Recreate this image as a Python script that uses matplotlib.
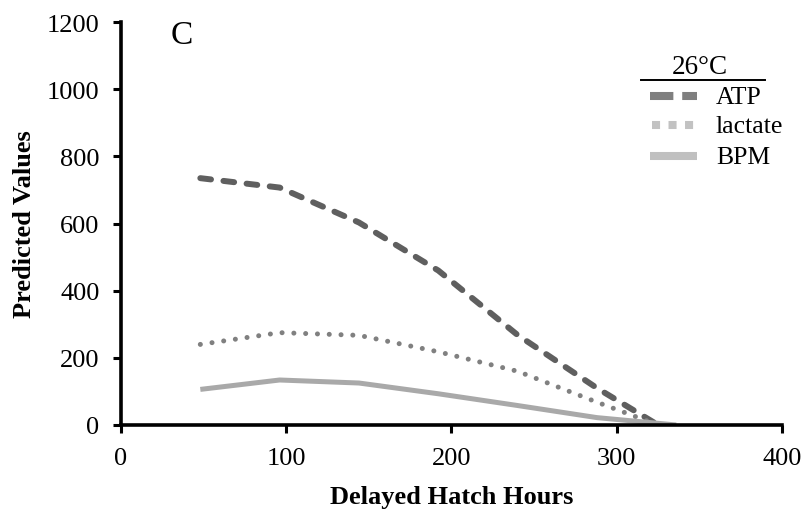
import matplotlib.pyplot as plt

plt.rcParams['font.family'] = ['Liberation Serif', 'DejaVu Serif']

# hours after delayed hatch
atp_x = [48, 96, 144, 192, 240, 288, 325]
atp_y = [735, 707, 603, 460, 268, 110, 0]

lac_x = [48, 96, 144, 192, 240, 288, 325]
lac_y = [240, 275, 267, 218, 160, 68, 0]

bpm_x = [48, 96, 144, 192, 240, 288, 336]
bpm_y = [106, 134, 125, 93, 58, 22, 0]

labels = ['ATP', 'lactate', 'BPM']
legend_title = '26°C'

fig = plt.figure(figsize=(8.03, 5.10), dpi=100)
ax = fig.add_axes([121/803, 1 - 426/510, (782-121)/803, (426-23)/510])

ax.plot(atp_x, atp_y, color='#5f5f5f', lw=4.3, linestyle=(0, (1.8, 2.1)), dash_capstyle='round')
ax.plot(lac_x, lac_y, color='#808080', lw=3.6, linestyle=(0, (0.01, 2.35)), dash_capstyle='round')
ax.plot(bpm_x, bpm_y, color='#a9a9a9', lw=3.6, solid_capstyle='butt')

ax.set_xlim(0, 400)
ax.set_ylim(0, 1200)
ax.set_xticks([0, 100, 200, 300, 400])
ax.set_yticks(range(0, 1201, 200))
for s in ['top', 'right']:
    ax.spines[s].set_visible(False)
for s in ['left', 'bottom']:
    ax.spines[s].set_linewidth(2.6)
ax.tick_params(direction='out', length=5.5, width=2.2, labelsize=19, pad=10)

ax.set_xlabel('Delayed Hatch Hours', fontsize=19, fontweight='bold', labelpad=12)
ax.set_ylabel('Predicted Values', fontsize=19, fontweight='bold', labelpad=8)

# panel letter
fig.text(182/803, 1 - 36/510, 'C', fontsize=24, ha='center', va='center')

# legend (pixel positions)
def fx(px):
    return px / 803

def fy(py):
    return 1 - py / 510

fig.text(fx(700), fy(68), legend_title, fontsize=19.5, ha='center', va='center')
fig.add_artist(plt.Line2D([fx(641), fx(765)], [fy(81), fy(81)], color='black', lw=1.4))

swatches = [
    dict(color='#7f7f7f', lw=5.8, linestyle=(0, (2.9, 1.1))),
    dict(color='#c2c2c2', lw=5.8, linestyle=(0, (1.0, 1.05))),
    dict(color='#c0c0c0', lw=5.8),
]
starts = [650, 652, 650]
rows = [97, 126, 157]
for lab, sty, x0, py in zip(labels, swatches, starts, rows):
    fig.add_artist(plt.Line2D([fx(x0), fx(697)], [fy(py), fy(py)],
                              dash_capstyle='butt', solid_capstyle='butt', **sty))
    fig.text(fx(716), fy(py + 1), lab, fontsize=18.5, ha='left', va='center')

fig.savefig('out.png', dpi=100)
